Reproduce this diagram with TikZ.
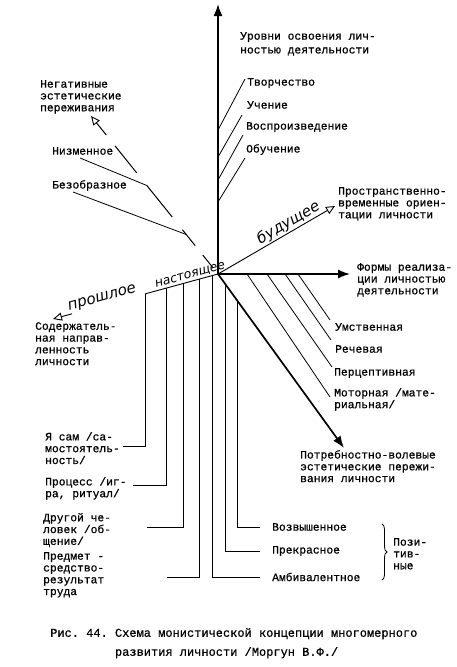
\documentclass[tikz,border=0pt]{standalone}
\usepackage{fontspec}
\setmonofont[FakeBold=0.7]{Liberation Mono}
\newfontfamily\handfont{DejaVu Sans}
\usetikzlibrary{arrows.meta,calc,decorations.pathreplacing}

\begin{document}
\begin{tikzpicture}[
		x=1pt, y=-1pt,
		every node/.style={inner sep=0pt, font=\fontsize{11.3}{11.8}\selectfont\ttfamily},
		lbl/.style={anchor=north west, align=left},
		mainaxis/.style={line width=1.5pt, -{Latex[length=12pt,width=9pt]}},
		openhead/.style={-{Triangle[open,length=9pt,width=8pt,line width=0.9pt]}},
		timeaxis/.style={line width=0.9pt},
		negline/.style={line width=1pt},
		branch/.style={line width=0.8pt},
		holder/.style={line width=1pt},
		hand/.style={font=\handfont\itshape\fontsize{#1}{#1}\selectfont, sloped, above, inner sep=1pt}
	]
	\useasboundingbox (0,0) rectangle (457,667);

	\coordinate (O) at (218,274);
	\coordinate (levtip) at (218,4);
	\coordinate (formtip) at (350,274);
	\coordinate (needtip) at (344,448);
	\coordinate (futtip) at (335,206);
	\coordinate (pasttip) at (53,319);
	\coordinate (negtip) at (91,116);

	\node[lbl] (levels) at (240,32) {Уровни освоения лич-\\[2pt]ностью деятельности};
	\node[lbl] (tvor) at (247,78) {Творчество};
	\node[lbl] (uch) at (247,101) {Учение};
	\node[lbl] (vospr) at (246,122) {Воспроизведение};
	\node[lbl] (obuch) at (246,144) {Обучение};
	\node[lbl] (spacetime) at (338,187) {Пространственно-\\временные ориен-\\тации личности};
	\node[lbl] (forms) at (357,263) {Формы реализа-\\ции личностью\\деятельности};
	\node[lbl] (umstv) at (335,323) {Умственная};
	\node[lbl] (rech) at (335,345) {Речевая};
	\node[lbl] (perc) at (334,368) {Перцептивная};
	\node[lbl] (motor) at (334,388) {Моторная /мате-\\риальная/};
	\node[lbl] (needs) at (300,450) {Потребностно-волевые\\эстетические пережи-\\вания личности};
	\node[lbl] (negtitle) at (40,80) {Негативные\\эстетические\\переживания};
	\node[lbl] (nizm) at (52,147) {Низменное};
	\node[lbl] (bezo) at (52,180) {Безобразное};
	\node[lbl] (content) at (35,322) {Содержатель-\\ная направ-\\ленность\\личности};
	\node[lbl] (self) at (45,432) {Я сам /са-\\мостоятель-\\ность/};
	\node[lbl] (process) at (45,477) {Процесс /иг-\\ра, ритуал/};
	\node[lbl] (other) at (43,513) {Другой че-\\ловек /об-\\щение/};
	\node[lbl] (object) at (43,552) {Предмет -\\средство-\\результат\\труда};
	\node[lbl, anchor=west] (sublime) at (272,527) {Возвышенное};
	\node[lbl, anchor=west] (beauty) at (272,551) {Прекрасное};
	\node[lbl, anchor=west] (ambiv) at (272,577) {Амбивалентное};
	\node[lbl] (positive) at (393,538) {Пози-\\тив-\\ные};
	\node[lbl, font=\fontsize{12}{19}\selectfont\ttfamily] (caption) at (50,628) {Рис. 44. Схема монистической концепции многомерного\\\phantom{Рис. 44. }развития личности /Моргун В.Ф./};

	\draw[mainaxis, line width=1.7pt] (O) -- (levtip);
	\draw[mainaxis] (O) -- (formtip);
	\draw[mainaxis, line width=1.7pt] (O) -- (needtip);
	\draw[timeaxis, openhead] (O) -- node[hand=15, pos=0.64] {будущее} (futtip);
	\draw[timeaxis] (O) -- node[hand=12.5, pos=0.36] {настоящее} ($(O)!0.442!(pasttip)$);
	\path (O) -- node[hand=15, pos=0.69] {прошлое} (pasttip);
	\draw[timeaxis, openhead] ($(O)!0.885!(pasttip)$) -- (pasttip);

	\foreach \a/\b in {0.04/0.12, 0.18/0.28, 0.36/0.56, 0.64/0.81}
		\draw[negline] ($(O)!\a!(negtip)$) -- ($(O)!\b!(negtip)$);
	\draw[negline, openhead] ($(O)!0.88!(negtip)$) -- (negtip);
	\coordinate (nizmend) at (80,158);
	\coordinate (bezoend) at (73,192);
	\draw[branch] ($(O)!0.56!(negtip)$) -- (nizmend);
	\draw[branch] ($(O)!0.25!(negtip)$) -- (bezoend);

	\foreach \n/\t/\ex/\ey in {1/0.533/245/79, 2/0.433/242/115, 3/0.348/243/135, 4/0.267/245/158} {
		\coordinate (lev\n) at (\ex,\ey);
		\draw[branch] ($(O)!\t!(levtip)$) -- (lev\n);
	}
	\foreach \n/\t/\ex/\ey in {1/0.606/330/320, 2/0.508/331/340, 3/0.371/332/367, 4/0.220/330/397} {
		\coordinate (form\n) at (\ex,\ey);
		\draw[branch] ($(O)!\t!(formtip)$) -- (form\n);
	}

	\coordinate (selfend) at (123,446);
	\coordinate (processend) at (133,485);
	\coordinate (otherend) at (147,527);
	\coordinate (objectend) at (167,577);
	\draw[holder] ($(O)!0.442!(pasttip)$) |- (selfend);
	\draw[holder] ($(O)!0.315!(pasttip)$) |- (processend);
	\draw[holder] ($(O)!0.212!(pasttip)$) |- (otherend);
	\draw[holder] ($(O)!0.115!(pasttip)$) |- (objectend);
	\draw[holder] ($(O)!0.036!(pasttip)$) |- ([xshift=-12pt]ambiv.west);
	\draw[holder] ($(O)!0.063!(needtip)$) |- ([xshift=-12pt]beauty.west);
	\draw[holder] ($(O)!0.151!(needtip)$) |- ([xshift=-12pt]sublime.west);

	\draw[branch, decorate, decoration={brace, amplitude=5pt}] (382,524) -- (382,580);
\end{tikzpicture}
\end{document}
